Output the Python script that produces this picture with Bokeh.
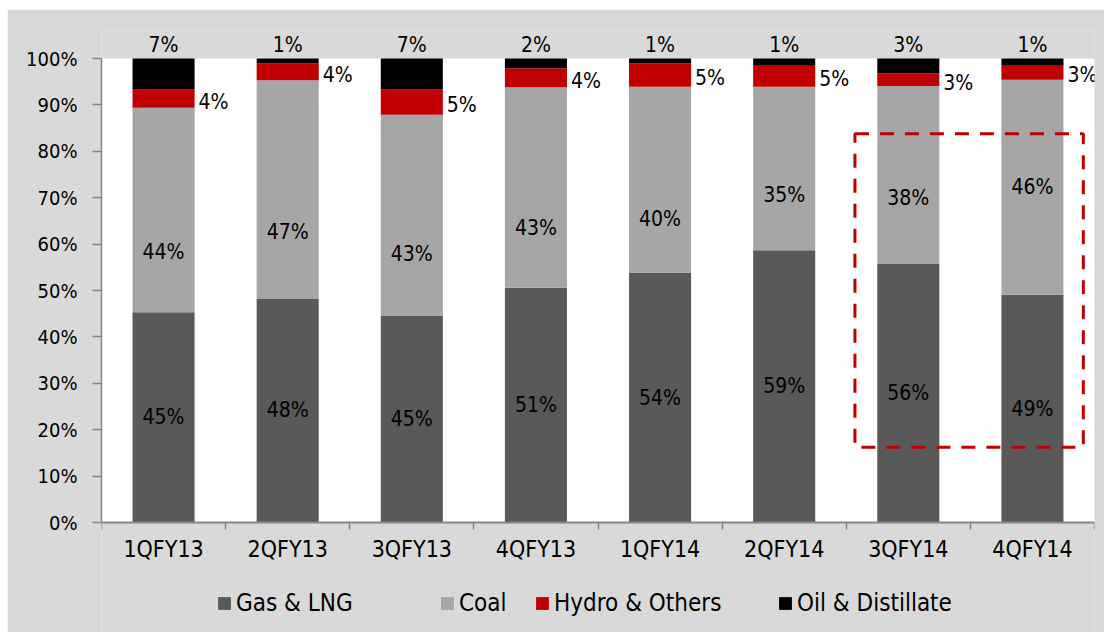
from bokeh.plotting import figure
from bokeh.core.properties import value
from bokeh.models import (ColumnDataSource, FixedTicker, PrintfTickFormatter, LabelSet,
                          Legend, LegendItem, BoxAnnotation, Range1d)
from bokeh.embed import file_html
from bokeh.resources import INLINE

# ---------------- data ----------------
categories = ["1QFY13", "2QFY13", "3QFY13", "4QFY13", "1QFY14", "2QFY14", "3QFY14", "4QFY14"]
gas_lng = [45.3, 48.3, 44.6, 50.6, 53.8, 58.7, 55.7, 49.1]
coal = [44.1, 47.0, 43.3, 43.2, 40.1, 35.2, 38.4, 46.3]
hydro_others = [3.9, 3.6, 5.4, 4.1, 5.1, 4.7, 2.7, 3.2]
oil_distillate = [6.7, 1.1, 6.7, 2.1, 1.0, 1.4, 3.2, 1.4]
series_names = ["Gas & LNG", "Coal", "Hydro & Others", "Oil & Distillate"]
y_ticks = list(range(0, 101, 10))
# where the coal value labels sit (in % of the axis), as placed in the original
coal_label_at = [58.3, 62.7, 57.9, 63.4, 65.5, 70.5, 70.0, 72.2]
# highlighted region (dashed box) around the last two quarters
highlight_x = (6.07, 7.91)
highlight_y = (16.2, 83.8)

# ---------------- styling ----------------
colors = ["#595959", "#a6a6a6", "#c00000", "#000000"]
FONT = "DejaVu Sans Condensed"
FS = "21px"
AXIS_GREY = "#868686"
BG = "#d9d9d9"
PX_PER_PCT = 4.64
legend_x = [115, 338, 433, 676]   # screen offsets of the legend entries from the frame's left edge

n = len(categories)
xs = [i + 0.5 for i in range(n)]
bar_w = 0.5
y_top = 100 + 28 / PX_PER_PCT      # head room above 100% for the top labels
y_bottom = -110 / PX_PER_PCT       # room below 0% for category labels and legend

src = ColumnDataSource(dict(
    x=xs, gas=gas_lng, coal=coal, hydro=hydro_others, oil=oil_distillate,
))

p = figure(width=1097, height=623, output_backend="svg", toolbar_location=None,
           x_range=Range1d(0, n), y_range=Range1d(y_bottom, y_top),
           min_border_left=94, min_border_right=10, min_border_top=21, min_border_bottom=0)
p.margin = (9, 0, 0, 7)
p.border_fill_color = BG
p.background_fill_color = BG
p.outline_line_color = None
p.xgrid.visible = False
p.ygrid.visible = False

# white plot area 0..100%
p.add_layout(BoxAnnotation(left=0, right=n, bottom=0, top=100, fill_color="white",
                           fill_alpha=1, line_color=None, level="underlay"))

rs = p.vbar_stack(["gas", "coal", "hydro", "oil"], x="x", width=bar_w, color=colors,
                  line_color=None, source=src)

# axes
ya = p.yaxis[0]
ya.ticker = FixedTicker(ticks=y_ticks, minor_ticks=[])
ya.bounds = (0, 100)
ya.formatter = PrintfTickFormatter(format="%d%%")
ya.axis_line_color = AXIS_GREY
ya.axis_line_width = 1.5
ya.major_tick_line_color = AXIS_GREY
ya.major_tick_line_width = 1.5
ya.major_tick_out = 9
ya.major_tick_in = 0
ya.minor_tick_line_color = None
ya.major_label_standoff = 15
ya.major_label_text_font = FONT
ya.major_label_text_font_size = "20px"
ya.major_label_text_color = "black"

xa = p.xaxis[0]
xa.fixed_location = 0
xa.ticker = FixedTicker(ticks=xs, minor_ticks=list(range(n + 1)))
xa.major_label_overrides = {x: c for x, c in zip(xs, categories)}
xa.axis_line_color = AXIS_GREY
xa.axis_line_width = 2
xa.major_tick_line_color = None
xa.major_tick_out = 0
xa.major_tick_in = 0
xa.minor_tick_line_color = AXIS_GREY
xa.minor_tick_line_width = 1.5
xa.minor_tick_out = 7
xa.minor_tick_in = 0
xa.major_label_standoff = 6
xa.major_label_text_font = FONT
xa.major_label_text_font_size = "23px"
xa.major_label_text_color = "black"

# value labels
def fmt(vals):
    return ["%d%%" % round(v) for v in vals]

gas_src = ColumnDataSource(dict(x=xs, y=[g / 2 for g in gas_lng], t=fmt(gas_lng)))
coal_src = ColumnDataSource(dict(x=xs, y=coal_label_at, t=fmt(coal)))
hydro_src = ColumnDataSource(dict(x=[x + bar_w / 2 for x in xs],
                                  y=[g + c + h / 2 for g, c, h in zip(gas_lng, coal, hydro_others)],
                                  t=fmt(hydro_others)))
oil_src = ColumnDataSource(dict(x=xs,
                                y=[g + c + h + o for g, c, h, o in zip(gas_lng, coal, hydro_others, oil_distillate)],
                                t=fmt(oil_distillate)))

common = dict(text_font=value(FONT), text_font_size=value(FS), text_color="black",
              text_baseline="middle")
p.add_layout(LabelSet(x="x", y="y", text="t", source=gas_src, text_align="center", **common))
p.add_layout(LabelSet(x="x", y="y", text="t", source=coal_src, text_align="center", **common))
p.add_layout(LabelSet(x="x", y="y", text="t", source=hydro_src, text_align="left",
                      x_offset=4, y_offset=-3, **common))
p.add_layout(LabelSet(x="x", y="y", text="t", source=oil_src, text_align="center",
                      y_offset=14, **common))

# dashed highlight box
p.add_layout(BoxAnnotation(left=highlight_x[0], right=highlight_x[1],
                           bottom=highlight_y[0], top=highlight_y[1],
                           fill_alpha=0, line_color="#c00000", line_alpha=1,
                           line_width=3, line_dash="14 11"))

# legend entries along the bottom
for nm, r, lx in zip(series_names, rs, legend_x):
    p.add_layout(Legend(items=[LegendItem(label=nm, renderers=[r])],
                        orientation="horizontal", location=(lx, 15),
                        border_line_color=None, background_fill_alpha=0,
                        glyph_width=16, glyph_height=16, label_standoff=4,
                        label_text_font=FONT, label_text_font_size="24px",
                        label_text_color="black", margin=0, padding=0))

open("out.html", "w").write(file_html(p, INLINE))
